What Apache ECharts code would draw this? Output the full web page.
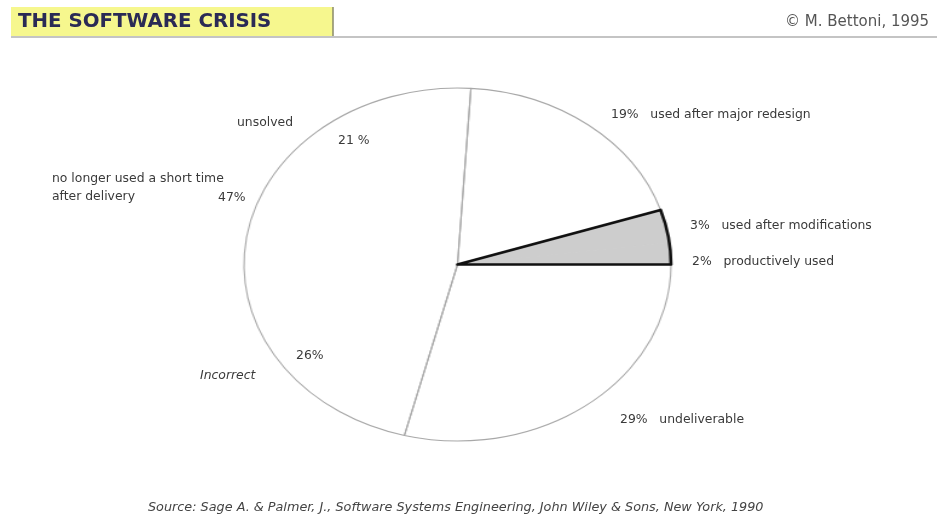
<!DOCTYPE html>
<html>
<head>
<meta charset="utf-8">
<script src="https://cdn.jsdelivr.net/npm/echarts@6/dist/echarts.min.js"></script>
<style>
  html, body { margin: 0; padding: 0; background: #ffffff; }
  #wrap { position: relative; width: 937px; height: 527px; overflow: hidden; background: #fff; }
  #pie { position: absolute; left: 0; top: 0; width: 937px; height: 527px;
         transform-origin: 457.5px 264.5px; transform: scaleX(1.2096); }
  #txt { position: absolute; left: 0; top: 0; width: 937px; height: 527px; pointer-events: none; }
</style>
</head>
<body>
<div id="wrap"><div id="pie"></div><div id="txt"></div></div>
<script>
// ---- data ----
const sliceNames  = ['productively used', 'used after modifications', 'used after major redesign', 'unsolved', 'Incorrect', 'undeliverable'];
const sliceValues = [2, 3, 19, 21, 26, 29];
const groupNames  = ['used (as delivered or modified)', 'used after major redesign', 'no longer used a short time after delivery', 'undeliverable'];
const groupValues = [sliceValues[0] + sliceValues[1], sliceValues[2], sliceValues[3] + sliceValues[4], sliceValues[5]];
const titleText   = 'THE SOFTWARE CRISIS';
const copyText    = '\u00A9 M. Bettoni, 1995';
const sourceText  = 'Source: Sage A. & Palmer, J., Software Systems Engineering, John Wiley & Sons, New York, 1990';

// ---- pie layer (horizontally stretched into an ellipse) ----
const pie = echarts.init(document.getElementById('pie'), null, { renderer: 'canvas' });
const center = [457.5, 264.5];
const radius = 176.5;
const fillColors = ['#cdcdcd', '#cdcdcd', '#ffffff', '#ffffff', '#ffffff', '#ffffff'];
pie.setOption({
  animation: false,
  backgroundColor: 'transparent',
  series: [
    {
      type: 'pie', silent: true, center: center, radius: radius,
      startAngle: 0, clockwise: false, label: { show: false }, labelLine: { show: false },
      data: sliceValues.map((v, i) => ({ name: sliceNames[i], value: v,
        itemStyle: { color: fillColors[i], borderColor: fillColors[i], borderWidth: 1 } }))
    },
    {
      type: 'pie', silent: true, center: center, radius: radius,
      startAngle: 0, clockwise: false, label: { show: false }, labelLine: { show: false },
      data: groupValues.map((v, i) => ({ name: groupNames[i], value: v,
        itemStyle: { color: 'rgba(0,0,0,0)', borderColor: '#a8a8a8', borderWidth: 1.1 } }))
    },
    {
      type: 'pie', silent: true, center: center, radius: radius,
      startAngle: 0, clockwise: false, label: { show: false }, labelLine: { show: false },
      data: groupValues.map((v, i) => ({ name: groupNames[i], value: v,
        itemStyle: i === 0
          ? { color: 'rgba(0,0,0,0)', borderColor: '#111111', borderWidth: 2.6, borderJoin: 'round' }
          : { color: 'rgba(0,0,0,0)', borderWidth: 0 } }))
    }
  ]
});

// ---- text layer ----
const txt = echarts.init(document.getElementById('txt'), null, { renderer: 'canvas' });
const F = '"DejaVu Sans", "Liberation Sans", Arial, sans-serif';
function t(x, y, s, opt) {
  opt = opt || {};
  return { type: 'text', x: x, y: y, silent: true,
    style: { text: s, fill: opt.fill || '#3a3a3a', font: opt.font || ('12.4px ' + F),
      textAlign: opt.align || 'left', textVerticalAlign: 'middle' } };
}
const pct = (v, sp) => v + (sp ? ' %' : '%');
txt.setOption({
  animation: false,
  graphic: [
    { type: 'rect', silent: true, shape: { x: 11, y: 7, width: 322, height: 29 },
      style: { fill: '#f6f78e' } },
    { type: 'line', silent: true, shape: { x1: 333, y1: 7, x2: 333, y2: 37 },
      style: { stroke: '#8a8a6a', lineWidth: 1.5 } },
    { type: 'line', silent: true, shape: { x1: 11, y1: 37, x2: 937, y2: 37 },
      style: { stroke: '#c4c4c4', lineWidth: 2 } },
    t(18, 22, titleText, { font: 'bold 19.8px ' + F, fill: '#2a2a55' }),
    t(785, 22, copyText, { font: '15px ' + F, fill: '#555555' }),

    t(237, 123, sliceNames[3], {}),
    t(338, 141, pct(sliceValues[3], true), {}),
    t(52, 179, 'no longer used a short time', {}),
    t(52, 197, 'after delivery', {}),
    t(218, 198, pct(groupValues[2]), {}),
    t(611, 115, pct(sliceValues[2]) + '   ' + sliceNames[2], {}),
    t(690, 226, pct(sliceValues[1]) + '   ' + sliceNames[1], {}),
    t(692, 262, pct(sliceValues[0]) + '   ' + sliceNames[0], {}),
    t(296, 356, pct(sliceValues[4]), {}),
    t(200, 376, sliceNames[4], { font: 'oblique 12.4px ' + F }),
    t(620, 420, pct(sliceValues[5]) + '   ' + sliceNames[5], {}),

    t(148, 508, sourceText, { font: 'oblique 12.8px ' + F, fill: '#444444' })
  ]
});
</script>
</body>
</html>
